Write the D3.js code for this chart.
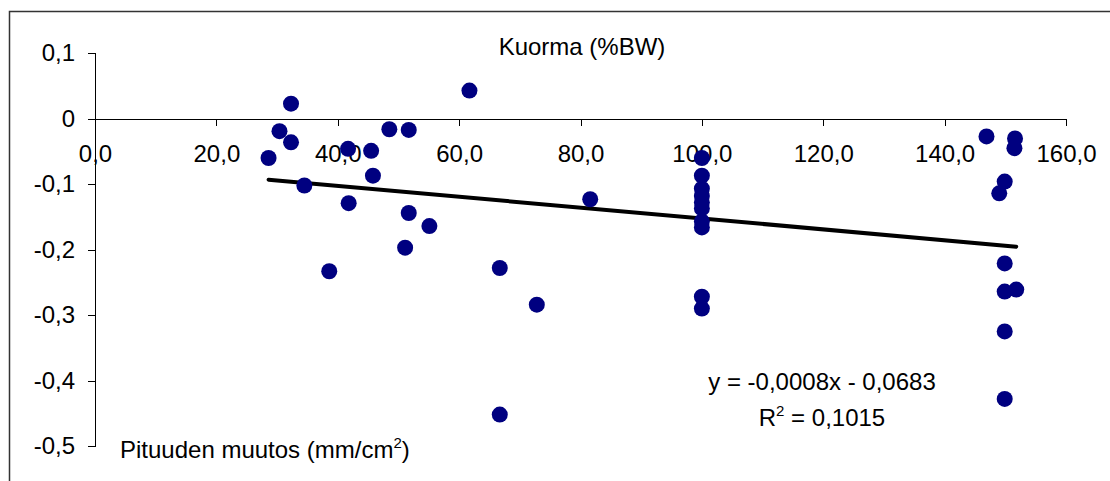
<!DOCTYPE html>
<html>
<head>
<meta charset="utf-8">
<script src="https://cdn.jsdelivr.net/npm/d3@7"></script>
<style>
body { margin: 0; background: #fff; }
svg { display: block; font-family: "Liberation Sans", Arial, sans-serif; }
.axis text { font-size: 24px; fill: #000; font-family: "Liberation Sans", Arial, sans-serif; }
.axis path, .axis line { stroke: #000; shape-rendering: crispEdges; }
</style>
</head>
<body>
<svg id="chart" width="1110" height="481"></svg>
<script>
// pituuden muutos (x) and kuorma (y)
const xValues = [28.6, 30.4, 32.3, 32.3, 34.5, 38.6, 41.7, 41.8, 45.5, 45.8,
    48.5, 51.1, 51.7, 51.7, 55.1, 61.7, 66.7, 66.7, 72.8, 81.6,
    100, 100, 100, 100, 100, 100, 100, 100, 100, 100,
    146.9, 149.0, 149.9, 149.9, 149.9, 149.9, 149.9, 151.5, 151.6, 151.8];
const yValues = [-0.060, -0.019, 0.023, -0.036, -0.102, -0.233, -0.046, -0.129, -0.049, -0.087,
    -0.016, -0.197, -0.017, -0.144, -0.164, 0.043, -0.228, -0.452, -0.284, -0.123,
    -0.060, -0.087, -0.107, -0.118, -0.128, -0.137, -0.157, -0.166, -0.272, -0.290,
    -0.027, -0.114, -0.096, -0.221, -0.264, -0.325, -0.428, -0.045, -0.030, -0.261];
const xTicks = [0, 20, 40, 60, 80, 100, 120, 140, 160];
const yTicks = [0.1, 0, -0.1, -0.2, -0.3, -0.4, -0.5];
// linear trend as drawn (label rounds it)
const trendSlope = -0.00083;
const trendIntercept = -0.0694;
const equationLines = ["y = -0,0008x - 0,0683", "R2 = 0,1015"];

const svg = d3.select("#chart");

// outer chart frame, cut by the picture edge on right/bottom
svg.append("rect")
    .attr("x", 9.5).attr("y", 11.5)
    .attr("width", 1300).attr("height", 600)
    .attr("fill", "none").attr("stroke", "#333").attr("stroke-width", 1.5);

const x = d3.scaleLinear().domain([0, 160]).range([95, 1066]);
const y = d3.scaleLinear().domain([-0.5, 0.1]).range([446, 53.3]);

const comma = f => s => d3.format(f)(s).replace(".", ",").replace("−", "-");

svg.append("g")
    .attr("class", "axis")
    .attr("transform", `translate(0,${y(0)})`)
    .call(d3.axisBottom(x).tickValues(xTicks).tickSize(7).tickSizeOuter(7).tickPadding(19)
        .tickFormat(comma(".1f")));

svg.append("g")
    .attr("class", "axis")
    .attr("transform", `translate(${x(0)},0)`)
    .call(d3.axisLeft(y).tickValues(yTicks).tickSize(7).tickSizeOuter(7).tickPadding(13)
        .tickFormat(d => d === 0 ? "0" : comma(".1f")(d)));

// trend line over the range of the data
const xExt = d3.extent(xValues);
svg.append("line")
    .attr("x1", x(xExt[0])).attr("y1", y(trendSlope * xExt[0] + trendIntercept))
    .attr("x2", x(xExt[1])).attr("y2", y(trendSlope * xExt[1] + trendIntercept))
    .attr("stroke", "#000").attr("stroke-width", 4).attr("stroke-linecap", "round");

svg.append("g")
    .selectAll("circle")
    .data(d3.range(xValues.length))
    .join("circle")
    .attr("cx", i => x(xValues[i]))
    .attr("cy", i => y(yValues[i]))
    .attr("r", 8)
    .attr("fill", "#000080");

svg.append("text")
    .attr("x", 582).attr("y", 55)
    .attr("text-anchor", "middle").attr("font-size", 24)
    .text("Kuorma (%BW)");

const xl = svg.append("text")
    .attr("x", 120).attr("y", 458).attr("font-size", 24);
xl.append("tspan").text("Pituuden muutos (mm/cm");
xl.append("tspan").attr("font-size", 15).attr("dy", -10).text("2");
xl.append("tspan").attr("dy", 10).text(")");

svg.append("text")
    .attr("x", 822).attr("y", 390)
    .attr("text-anchor", "middle").attr("font-size", 24)
    .text(equationLines[0]);

const r2 = svg.append("text")
    .attr("x", 822).attr("y", 426)
    .attr("text-anchor", "middle").attr("font-size", 24);
r2.append("tspan").text("R");
r2.append("tspan").attr("font-size", 15).attr("dy", -10).text("2");
r2.append("tspan").attr("dy", 10).text(equationLines[1].slice(2));
</script>
</body>
</html>
